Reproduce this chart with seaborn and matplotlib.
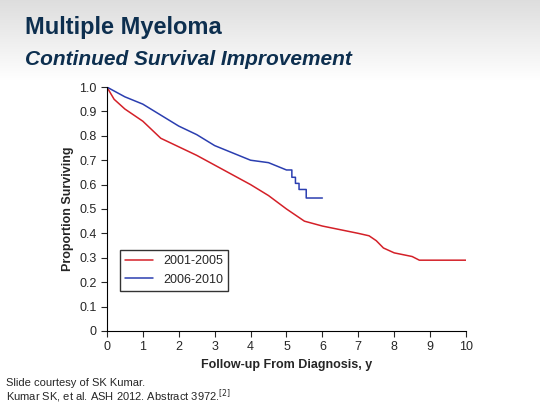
import numpy as np
import pandas as pd
import matplotlib
matplotlib.use("Agg")
import matplotlib.pyplot as plt
import seaborn as sns

red_t = [0, 0.2, 0.5, 1.0, 1.5, 2.0, 2.5, 3.0, 3.5, 4.0, 4.5, 5.0, 5.5, 6.0, 6.5, 7.0, 7.3, 7.5, 7.7, 8.0, 8.5, 8.7, 10.0]
red_s = [1.0, 0.95, 0.91, 0.86, 0.79, 0.755, 0.72, 0.68, 0.64, 0.60, 0.555, 0.50, 0.45, 0.43, 0.415, 0.40, 0.39, 0.37, 0.34, 0.32, 0.305, 0.29, 0.29]
blue_t = [0, 0.5, 1.0, 1.5, 2.0, 2.5, 3.0, 3.5, 4.0, 4.5, 5.0, 5.15, 5.15, 5.25, 5.25, 5.35, 5.35, 5.55, 5.55, 6.0]
blue_s = [1.0, 0.96, 0.93, 0.885, 0.84, 0.805, 0.76, 0.73, 0.70, 0.69, 0.66, 0.66, 0.63, 0.63, 0.605, 0.605, 0.58, 0.58, 0.545, 0.545]
labels = ["2001-2005", "2006-2010"]

df = pd.concat([
    pd.DataFrame({"t": red_t, "s": red_s, "g": labels[0], "o": range(len(red_t))}),
    pd.DataFrame({"t": blue_t, "s": blue_s, "g": labels[1], "o": range(len(blue_t))}),
])

sns.set_style("white")
plt.rcParams['font.family'] = ['Liberation Sans', 'DejaVu Sans']
fig = plt.figure(figsize=(5.4, 4.05), dpi=100)
fig.patch.set_facecolor("white")
bg = fig.add_axes([0, 0.8, 1, 0.2], zorder=-1)
grad = np.linspace(0.87, 1.0, 50).reshape(-1, 1)
bg.imshow(np.dstack([grad]*3), aspect="auto", extent=[0, 1, 0, 1], origin="upper")
bg.axis("off")
fig.text(0.046, 0.915, "Multiple Myeloma", fontsize=17, fontweight="bold", color="#0d2f4f")
fig.text(0.046, 0.84, "Continued Survival Improvement", fontsize=15, fontweight="bold", style="italic", color="#0d2f4f")

ax = fig.add_axes([0.198, 0.183, 0.665, 0.602])
sns.lineplot(data=df, x="t", y="s", hue="g", units="g", estimator=None, sort=False,
             palette=["#d42028", "#2b3eb0"], linewidth=1.1, ax=ax)
ax.set_xlim(0, 10)
ax.set_ylim(0, 1.0)
ax.set_xticks(range(0, 11))
ax.set_yticks(np.arange(0, 1.01, 0.1))
ax.set_yticklabels(["0"] + [f"{v:.1f}" for v in np.arange(0.1, 1.01, 0.1)])
ax.tick_params(labelsize=9, direction="out", length=4, left=True, bottom=True)
for s in ["top", "right"]:
    ax.spines[s].set_visible(False)
for s in ["left", "bottom"]:
    ax.spines[s].set_color("black")
ax.set_xlabel("Follow-up From Diagnosis, y", fontsize=9, fontweight="bold")
ax.set_ylabel("Proportion Surviving", fontsize=9, fontweight="bold")
leg = ax.legend(loc="lower left", bbox_to_anchor=(0.02, 0.14), fontsize=9, frameon=True,
                fancybox=False, handlelength=2.2, borderpad=0.4)
leg.get_frame().set_edgecolor("black")
leg.set_title(None)

fig.text(0.012, 0.048, "Slide courtesy of SK Kumar.", fontsize=8)
fig.text(0.012, 0.012, "Kumar SK, et al. ASH 2012. Abstract 3972.$^{[2]}$", fontsize=8)
fig.savefig("out.png", dpi=100)
